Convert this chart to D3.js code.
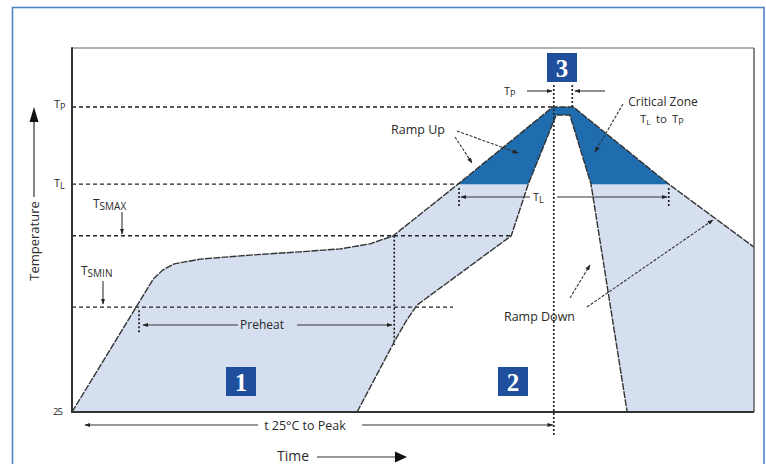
<!DOCTYPE html>
<html><head><meta charset="utf-8">
<script src="https://cdn.jsdelivr.net/npm/d3@7"></script>
<style>
body{margin:0;background:#fff}
svg{display:block}
text{font-family:"Open Sans",sans-serif;fill:#2a2a2a}
</style>
</head><body>
<svg id="c" width="766" height="464"></svg>
<script>
// ---- data (abstract units: time 0..100, temperature 0..100) ----
const levelNames  = ["25", "TSMIN", "TSMAX", "TL", "TP"];
const levelValues = [0, 28.8, 48.4, 62.6, 83.8];

// outer (maximum) profile
const outerTime = [0, 11.9, 13.3, 15.0, 18.8, 26.1, 33.4, 39.3, 43.7, 47.1, 56.6, 70.5, 73.5, 87.5, 100, 100];
const outerTemp = [0, 36.5, 39.0, 40.7, 42.0, 43.1, 44.0, 44.8, 46.2, 48.4, 62.6, 83.8, 83.8, 62.6, 45.3, 0];

// inner (minimum) profile
const innerTime = [41.8, 47.4, 49.1, 50.6, 64.4, 66.9, 71.0, 73.0, 76.1, 81.4];
const innerTemp = [0, 19.8, 25.3, 29.4, 48.4, 62.6, 81.6, 81.6, 62.6, 0];

const zoneLabels = ["1", "2", "3"];
const textLabels = ["Preheat", "Ramp Up", "Critical Zone", "Ramp Down", "t 25°C to Peak", "Time", "Temperature"];

// ---- setup ----
const svg = d3.select("#c");
const x = d3.scaleLinear().domain([0, 100]).range([72, 754]);
const y = d3.scaleLinear().domain([0, 100]).range([412, 48]);
const lv = name => levelValues[levelNames.indexOf(name)];

const outer = outerTime.map((t, i) => [t, outerTemp[i]]);
const inner = innerTime.map((t, i) => [t, innerTemp[i]]);
const line = d3.line().x(d => x(d[0])).y(d => y(d[1]));

function outerTimeAt(temp) {
  for (let i = 0; i < outer.length - 1; i++) {
    const a = outer[i], b = outer[i + 1];
    if (a[1] <= temp && b[1] >= temp && b[1] > a[1]) return a[0] + (temp - a[1]) / (b[1] - a[1]) * (b[0] - a[0]);
  }
  return 0;
}

const defs = svg.append("defs");
defs.append("marker").attr("id", "ah").attr("viewBox", "0 0 10 10").attr("refX", 9).attr("refY", 5)
  .attr("markerWidth", 6).attr("markerHeight", 6).attr("markerUnits", "userSpaceOnUse").attr("orient", "auto")
  .append("path").attr("d", "M0,1.5 L10,5 L0,8.5 Z").attr("fill", "#222");
defs.append("clipPath").attr("id", "aboveTL").append("rect")
  .attr("x", 0).attr("y", 0).attr("width", 766).attr("height", y(lv("TL")));

// outer blue border
svg.append("rect").attr("x", 12.5).attr("y", 7.5).attr("width", 751.5).attr("height", 480)
  .attr("fill", "none").attr("stroke", "#4f84c6").attr("stroke-width", 1.6);

// ---- fills ----
const outerClosed = outer.concat([[0, 0]]);
svg.append("path").attr("d", line(outerClosed) + "Z").attr("fill", "#d5dff0");
svg.append("path").attr("d", line(outerClosed) + "Z").attr("fill", "#1f6cae").attr("clip-path", "url(#aboveTL)");
svg.append("path").attr("d", line(inner) + "Z").attr("fill", "#fff");

// ---- dashed temperature levels ----
const dash = (x1, y1, x2, y2, da, w) => svg.append("line").attr("x1", x1).attr("y1", y1).attr("x2", x2).attr("y2", y2)
  .attr("stroke", "#222").attr("stroke-width", w || 1.4).attr("stroke-dasharray", da);
dash(x(0), y(lv("TP")), x(outerTime[11]), y(lv("TP")), "4,3");
dash(x(0), y(lv("TL")), x(outerTime[10]), y(lv("TL")), "4,3");
dash(x(0), y(lv("TSMAX")), x(innerTime[4]), y(lv("TSMAX")), "4,3");
dash(x(0), y(lv("TSMIN")), 453, y(lv("TSMIN")), "4,3");

// vertical dotted markers
const tsminT = outerTimeAt(lv("TSMIN"));
dash(x(tsminT) + 3, y(lv("TSMIN")) + 3, x(tsminT) + 3, 333, "2,2", 1.7);
dash(x(outerTime[9]) + 1, y(lv("TSMAX")), x(outerTime[9]) + 1, 345, "2,2", 1.7);
dash(x(outerTime[11]) + 1, 85, x(outerTime[11]) + 1, 436, "2,2", 1.7);
dash(x(outerTime[12]) - 1, 85, x(outerTime[12]) - 1, y(lv("TP")), "2,2", 1.7);
dash(x(outerTime[10]) + 1, 188, x(outerTime[10]) + 1, 207, "2,2", 1.7);
dash(x(outerTime[13]), 188, x(outerTime[13]), 207, "2,2", 1.7);

// ---- profile strokes ----
svg.append("path").attr("d", line(outer.slice(0, 15))).attr("fill", "none")
  .attr("stroke", "#333").attr("stroke-width", 1.4).attr("stroke-dasharray", "7,1.2");
svg.append("path").attr("d", line(inner)).attr("fill", "none")
  .attr("stroke", "#333").attr("stroke-width", 1.4).attr("stroke-dasharray", "7,1.2");

// ---- frame ----
const fr = (x1, y1, x2, y2, c, w) => svg.append("line").attr("x1", x1).attr("y1", y1).attr("x2", x2).attr("y2", y2)
  .attr("stroke", c).attr("stroke-width", w);
fr(x(0), y(100), x(100), y(100), "#9a9a9a", 1.6);
fr(x(100), y(100), x(100), y(0), "#666", 1.6);
fr(x(0), y(100) - 0.8, x(0), y(0) + 1, "#333", 2);
fr(x(0), y(0), x(100), y(0), "#333", 2.2);

// ---- arrows ----
const arrow = (x1, y1, x2, y2, da) => svg.append("line").attr("x1", x1).attr("y1", y1).attr("x2", x2).attr("y2", y2)
  .attr("stroke", "#333").attr("stroke-width", 1.1).attr("stroke-dasharray", da || null).attr("marker-end", "url(#ah)");

function tLabel(px, py, sub, big, small) {
  const t = svg.append("text").attr("x", px).attr("y", py).style("font-size", big + "px");
  t.append("tspan").text("T");
  t.append("tspan").attr("dy", 2).style("font-size", small + "px").text(sub);
  return t;
}
tLabel(54, 108, "P", 11, 9);
tLabel(54, 187, "L", 11, 9);
tLabel(93, 208, "SMAX", 12, 10);
tLabel(81, 275, "SMIN", 12, 10);
arrow(122, 212, 122, 234);
arrow(103, 281, 103, 304);
svg.append("text").attr("x", 53).attr("y", 415).style("font-size", "9.5px").style("letter-spacing", "-1px").text(levelNames[0]);

// Temperature axis label
svg.append("text").attr("transform", "translate(38.5,241) rotate(-90)").attr("text-anchor", "middle")
  .style("font-size", "13px").text(textLabels[6]);
svg.append("line").attr("x1", 34).attr("y1", 197).attr("x2", 34).attr("y2", 120).attr("stroke", "#333").attr("stroke-width", 1.2);
svg.append("path").attr("d", "M34,107 L29.5,122 L38.5,122 Z").attr("fill", "#111");

// Time label
svg.append("text").attr("x", 277).attr("y", 460.5).style("font-size", "14px").text(textLabels[5]);
svg.append("line").attr("x1", 317).attr("y1", 457).attr("x2", 396).attr("y2", 457).attr("stroke", "#333").attr("stroke-width", 1.2);
svg.append("path").attr("d", "M407,457 L395,451.5 L395,462.5 Z").attr("fill", "#111");

// t 25°C to Peak
svg.append("text").attr("x", 305).attr("y", 430).attr("text-anchor", "middle").style("font-size", "12.5px").text(textLabels[4]);
arrow(258, 425, 85, 425);
arrow(362, 425, x(outerTime[11]), 425);

// Preheat
svg.append("text").attr("x", 262).attr("y", 329).attr("text-anchor", "middle").style("font-size", "12px").text(textLabels[0]);
arrow(238, 325, 143, 325);
arrow(297, 325, 392, 325);

// TL width
tLabel(533, 201, "L", 11, 9);
arrow(530, 197, 461, 197);
arrow(557, 197, 667, 197);

// Tp width
tLabel(504, 95, "P", 11, 9);
arrow(527, 91, 552, 91);
arrow(605, 91, 575, 91);

// Ramp Up
svg.append("text").attr("x", 391).attr("y", 134).style("font-size", "12.5px").text(textLabels[1]);
arrow(457, 131, 518, 153, "3,1.5");
arrow(455, 137, 472, 163, "3,1.5");

// Critical Zone
svg.append("text").attr("x", 663).attr("y", 105.5).attr("text-anchor", "middle").style("font-size", "12px").text(textLabels[2]);
tLabel(640, 123, "L", 11.5, 8);
svg.append("text").attr("x", 656).attr("y", 123).style("font-size", "11.5px").text("to");
tLabel(672, 123, "P", 11.5, 9);
arrow(623, 104, 595, 152, "3,1.5");

// Ramp Down
svg.append("text").attr("x", 575).attr("y", 320.5).attr("text-anchor", "end").style("font-size", "12.5px").text(textLabels[3]);
arrow(570, 298, 590, 265, "3,1.5");
arrow(587, 307, 713, 220, "3,1.5");

// zone number boxes
const boxes = [[226, 367], [498, 367], [547, 53]];
boxes.forEach((b, i) => {
  svg.append("rect").attr("x", b[0]).attr("y", b[1]).attr("width", 30).attr("height", 29).attr("fill", "#1f4f9c");
  svg.append("text").attr("x", b[0] + 15).attr("y", b[1] + 23.5).attr("text-anchor", "middle")
    .style("font-family", "'Liberation Serif',serif").style("font-size", "25px").style("font-weight", "bold")
    .style("fill", "#fff").text(zoneLabels[i]);
});
</script>
</body></html>
